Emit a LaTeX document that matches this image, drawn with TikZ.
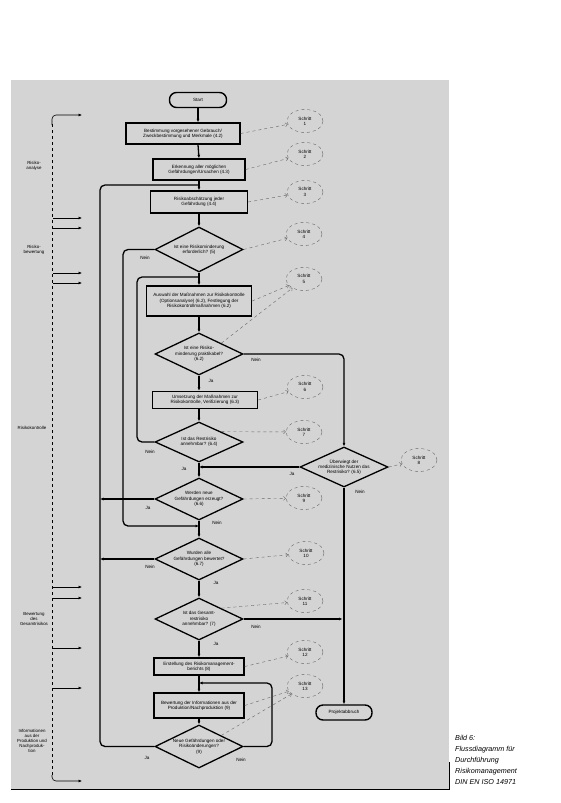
\documentclass[tikz,border=0pt]{standalone}
\usepackage{fontspec}
\setmainfont{Liberation Sans}
\usetikzlibrary{shapes.geometric,arrows.meta}
\newcommand\flowfont{\fontsize{4.6}{5.3}\selectfont}
\newcommand\annfont{\fontsize{4.4}{5.2}\selectfont}
\begin{document}
\begin{tikzpicture}[x=1pt,y=-1pt,
  >={Latex[length=3.5pt,width=3pt]},
  proc/.style={draw, line width=1.4pt, align=center, font=\flowfont, inner sep=1pt},
  term/.style={draw, line width=1.4pt, rounded corners=7pt, minimum width=57pt, minimum height=15pt, font=\flowfont, inner sep=1pt},
  dec/.style={diamond, draw, line width=1.3pt, minimum width=88pt, minimum height=42pt, inner sep=0pt},
  dtext/.style={align=center, font=\flowfont, inner sep=0pt},
  schritt/.style={ellipse, draw=black!60, dashed, line width=0.4pt, minimum width=36pt, minimum height=23pt, inner sep=0pt, align=center, font=\flowfont},
  stepline/.style={draw=black!60, dashed, line width=0.4pt, -{Straight Barb[length=2pt]}},
  flow/.style={line width=1.3pt, ->},
  link/.style={line width=1.3pt},
  ans/.style={font=\flowfont, inner sep=0pt},
  phaseline/.style={dashed, line width=0.6pt},
  pharrow/.style={line width=0.6pt, ->},
  ann/.style={align=center, font=\annfont, inner sep=0pt},
  bildtext/.style={align=left, font=\fontsize{7.2}{11}\selectfont\itshape, inner sep=0pt}]

\useasboundingbox (0,0) rectangle (560,803);

% Hintergrund
\fill[black!17] (11,80) rectangle (449,789);
\draw[line width=0.8pt] (11,789) -- (449,789) -- (449,762);

% ---- Hauptspalte
\node[term] (start) at (198,100) {Start};
\node[proc, minimum width=114pt, minimum height=21pt] (b1) at (183,133.5) {Bestimmung vorgesehener Gebrauch/\\Zweckbestimmung und Merkmale (4.2)};
\node[proc, minimum width=92pt, minimum height=21pt] (b2) at (199,169.5) {Erkennung aller möglichen\\Gefährdungen/Ursachen (4.3)};
\node[proc, minimum width=97pt, minimum height=22pt] (b3) at (199,202) {Risikoabschätzung jeder\\Gefährdung (4.4)};
\node[dec, minimum height=45pt, label={[dtext]center:{Ist eine Risikominderung\\erforderlich? (5)}}] (d1) at (199,249.5) {};
\node[proc, minimum width=105pt, minimum height=30pt] (b4) at (199,301) {Auswahl der Maßnahmen zur Risikokontrolle\\(Optionsanalyse) (6.2), Festlegung der\\Risikokontrollmaßnahmen (6.2)};
\node[dec, label={[dtext]center:{Ist eine Risiko-\\minderung praktikabel?\\(6.2)}}] (d2) at (199,354) {};
\node[proc, minimum width=105pt, minimum height=17pt] (b5) at (205,400) {Umsetzung der Maßnahmen zur\\Risikokontrolle, Verifizierung (6.3)};
\node[dec, minimum height=40pt, label={[dtext]center:{Ist das Restrisiko\\annehmbar? (6.4)}}] (d3) at (199,442) {};
\node[dec, minimum height=40pt, label={[dtext]center:{Überwiegt der\\medizinische Nutzen das\\Restrisiko? (6.5)}}] (d4) at (344,467) {};
\node[dec, label={[dtext]center:{Werden neue\\Gefährdungen erzeugt?\\(6.6)}}] (d5) at (199,499) {};
\node[dec, label={[dtext]center:{Wurden alle\\Gefährdungen bewertet?\\(6.7)}}] (d6) at (199,559) {};
\node[dec, label={[dtext]center:{Ist das Gesamt-\\restrisiko\\annehmbar? (7)}}] (d7) at (199,619) {};
\node[proc, minimum width=90pt, minimum height=17pt] (b6) at (199,666.5) {Erstellung des Risikomanagement-\\berichts (8)};
\node[proc, minimum width=90pt, minimum height=25pt] (b7) at (199,705.5) {Bewertung der Informationen aus der\\Produktion/Nachproduktion (9)};
\node[dec, minimum height=43pt, label={[dtext]center:{Neue Gefährdungen oder\\Risikoänderungen?\\(9)}}] (d8) at (199,746.5) {};
\node[term, minimum width=56pt] (stop) at (344,712.5) {Projektabbruch};

% Hauptfluss
\draw[flow] (start.south) -- (start.south |- b1.north);
\draw[flow] (start.south |- b1.south) -- (b2.north);
\draw[flow] (b2) -- (b3);
\draw[flow] (b3) -- (d1);
\draw[flow] (d1) -- (b4);
\draw[flow] (b4) -- (d2);
\draw[flow] (d2.south) -- (d2.south |- b5.north);
\draw[flow] (d3.north |- b5.south) -- (d3.north);
\draw[flow] (d3) -- (d5);
\draw[flow] (d5) -- (d6);
\draw[flow] (d6) -- (d7);
\draw[flow] (d7) -- (b6);
\draw[flow] (b6) -- (b7);
\draw[flow] (b7) -- (d8);

% Schleifen
\coordinate (outer) at (100,185);
\coordinate (inner) at (137,277);
\coordinate (skip) at (123,526);
\coordinate (mon) at (272,683);
\draw[flow] (d5.west) -- (d5.west -| outer);
\draw[flow] (d6.west) -- (d6.west -| outer);
\draw[link, rounded corners=5pt] (d8.west) -| (outer) -- (b3.north |- outer);
\draw[link, rounded corners=5pt] (d3.west) -| (inner) -- (inner -| d1.south);
\draw[flow, rounded corners=5pt] (d1.west) -| (skip) -- (skip -| d5.south);
\draw[flow, rounded corners=5pt] (d2.east) -| (d4.north);
\draw[flow] (d4.west) -- (d4.west -| d3.south);
\draw[flow] (d4.south) -- (stop.north);
\draw[flow, shorten >=1.5pt] (d7.east) -- (d7.east -| d4.south);
\draw[flow, rounded corners=5pt] (d8.east) -| (mon) -- (mon -| b7.north);

% Antworten
\node[ans] (n1) at (145,258) {Nein};
\node[ans] (n2) at (256,360) {Nein};
\node[ans] (j2) at (211,381) {Ja};
\node[ans] (n3) at (150,452) {Nein};
\node[ans] (j3) at (184,469) {Ja};
\node[ans] (j4) at (292,474) {Ja};
\node[ans] (n4) at (360,492) {Nein};
\node[ans] (j5) at (148,508) {Ja};
\node[ans] (n5) at (217,523) {Nein};
\node[ans] (n6) at (150,567) {Nein};
\node[ans] (j6) at (216,583) {Ja};
\node[ans] (n7) at (256,627) {Nein};
\node[ans] (j7) at (216,644) {Ja};
\node[ans] (j8) at (147,758) {Ja};
\node[ans] (n8) at (241,760) {Nein};

% ---- Schritte
\node[schritt] (s1) at (305,121) {Schritt\\1};
\node[schritt] (s2) at (305,154) {Schritt\\2};
\node[schritt] (s3) at (305,192) {Schritt\\3};
\node[schritt] (s4) at (304,234) {Schritt\\4};
\node[schritt] (s5) at (304,279) {Schritt\\5};
\node[schritt] (s6) at (305,387) {Schritt\\6};
\node[schritt] (s7) at (304,432) {Schritt\\7};
\node[schritt] (s8) at (419,460) {Schritt\\8};
\node[schritt] (s9) at (304,498) {Schritt\\9};
\node[schritt] (s10) at (306,553) {Schritt\\10};
\node[schritt] (s11) at (305,601) {Schritt\\11};
\node[schritt] (s12) at (305,652) {Schritt\\12};
\node[schritt] (s13) at (305,686) {Schritt\\13};
\draw[stepline] (b1.east) -- (s1);
\draw[stepline] (b2.east) -- (s2);
\draw[stepline] (b3.east) -- (s3);
\draw[stepline] (d1.east) -- (s4);
\draw[stepline] (b4.east) -- (s5);
\draw[stepline] (d2.north east) -- (s5);
\draw[stepline] (b5.east) -- (s6);
\draw[stepline] (d3.north east) -- (s7);
\draw[stepline] (d4.east) -- (s8);
\draw[stepline] (d5.east) -- (s9);
\draw[stepline] (d6.east) -- (s10);
\draw[stepline] (d7.north east) -- (s11);
\draw[stepline] (b6.east) -- (s12);
\draw[stepline] (b7.east) -- (s13);
\draw[stepline] (d8.north east) -- (s13);

% ---- Phasen links
\draw[phaseline] (52,124) -- (52,776);
\draw[pharrow, rounded corners=4pt] (52,125) |- (82,115);
\draw[pharrow, rounded corners=4pt] (52,775) |- (82,781);
\foreach \y in {218,228,273,283,587,598,648,688} {
  \draw[pharrow] (53,\y) -- (82,\y);
}
\node[ann] (ra) at (34,166) {Risiko-\\analyse};
\node[ann] (rb) at (34,250) {Risiko-\\bewertung};
\node[ann] (rk) at (32,428) {Risikokontrolle};
\node[ann] (gr) at (34,619) {Bewertung\\des\\Gesamtrisikos};
\node[ann] (pi) at (32,741) {Informationen\\aus der\\Produktion und\\Nachproduk-\\tion};

% Bildunterschrift
\node[bildtext, anchor=north west] (cap) at (455,735) {Bild 6:\\Flussdiagramm für\\Durchführung\\Risikomanagement\\DIN EN ISO 14971};
\end{tikzpicture}
\end{document}
